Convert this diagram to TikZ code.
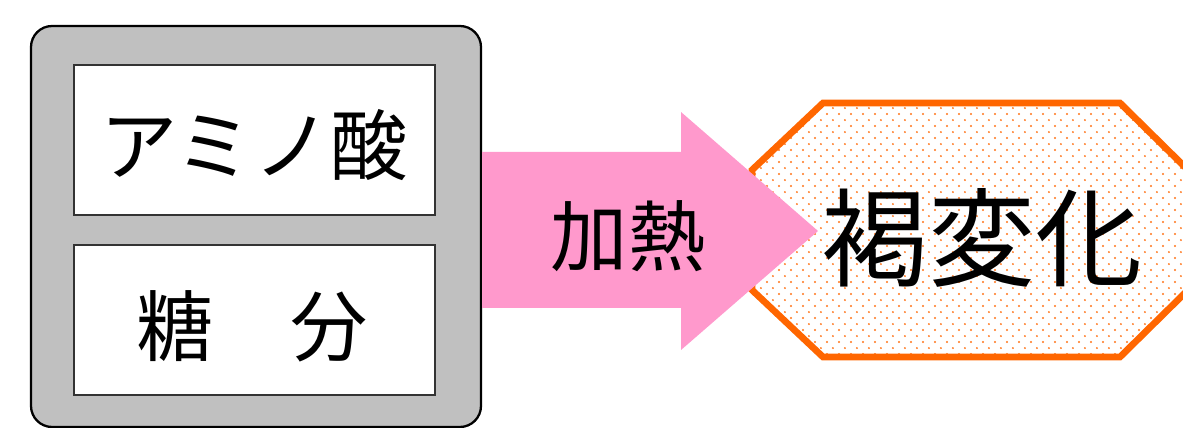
\documentclass[tikz,border=0pt]{standalone}
\usepackage{fontspec}
\setmainfont{Noto Sans CJK JP}
\usetikzlibrary{patterns}
\definecolor{boxgray}{HTML}{C0C0C0}
\definecolor{arrowpink}{HTML}{FF99CC}
\definecolor{hexorange}{HTML}{FF6600}
\pgfdeclarepatternformonly{hexdots}{\pgfpointorigin}{\pgfpoint{6.8pt}{6.8pt}}{\pgfpoint{6.8pt}{6.8pt}}{%
  \pgfpathcircle{\pgfpoint{1.7pt}{1.7pt}}{0.6pt}%
  \pgfpathcircle{\pgfpoint{5.1pt}{5.1pt}}{0.6pt}%
  \pgfusepath{fill}}
\tikzset{
  px/.style={x=0.02cm,y=-0.02cm},
  outerbox/.style={draw=black,line width=1.3pt,fill=boxgray,rounded corners=12pt},
  innerbox/.style={draw=black!80,line width=0.8pt,fill=white},
  lbl/.style={inner sep=0pt,font=\fontsize{44}{50}\selectfont},
  biglbl/.style={inner sep=0pt,font=\fontsize{61}{68}\selectfont},
  hexshape/.style={draw=hexorange,line width=3.8pt,line join=miter,pattern=hexdots,pattern color=hexorange!90},
  pinkarrow/.style={fill=arrowpink,draw=none}
}
\begin{document}
\begin{tikzpicture}[px]
\useasboundingbox (0,0) rectangle (1183,428);
% outer gray container
\draw[outerbox] (31,26) rectangle (481,427);
\draw[innerbox] (74,65) rectangle (435,215);
\draw[innerbox] (74,245) rectangle (435,395);
\node[lbl] (amino) at (254,145) {アミノ酸};
\node[lbl] (sugar) at (252,326) {糖　分};
% octagonal outline
\fill[white] (823,103) -- (1120,103) -- (1188,170) -- (1188,290) -- (1120,357) -- (823,357) -- (752,290) -- (752,170) -- cycle;
\draw[hexshape] (823,103) -- (1120,103) -- (1188,170) -- (1188,290) -- (1120,357) -- (823,357) -- (752,290) -- (752,170) -- cycle;
\node[biglbl] (brown) at (982,238) {褐変化};
% pink block arrow
\fill[pinkarrow] (482,152) -- (681,152) -- (681,112) -- (818,231) -- (681,350) -- (681,308) -- (482,308) -- cycle;
\node[lbl] (heat) at (628,236) {加熱};
\end{tikzpicture}
\end{document}
